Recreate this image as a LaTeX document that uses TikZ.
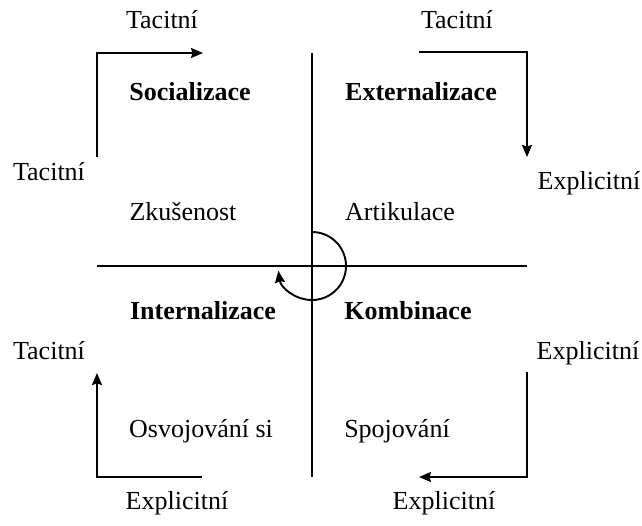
\documentclass[tikz,border=0pt]{standalone}
\usepackage{fontspec}
\setmainfont{Liberation Serif}
\usetikzlibrary{arrows.meta}

\begin{document}
\begin{tikzpicture}[
    x=1pt, y=1pt,
    lbl/.style={inner sep=0pt, anchor=base, font=\fontsize{26}{30}\selectfont},
    mode/.style={lbl, font=\fontsize{26}{30}\selectfont\bfseries},
    flow/.style={-{Stealth[length=12pt, width=10pt, inset=1.5pt]}, line width=1.9pt},
    axis/.style={line width=1.8pt}
]
    \useasboundingbox (0,0) rectangle (642,525);

    % Axes
    \coordinate (ax-top) at (312,472);
    \coordinate (ax-bot) at (312,48);
    \coordinate (ax-left) at (97,259);
    \coordinate (ax-right) at (527,259);
    \draw[axis] (ax-top) -- (ax-bot);
    \draw[axis] (ax-left) -- (ax-right);

    % Spiral in the centre
    \coordinate (hub) at (312,259);
    \draw[flow] ([yshift=34pt]hub) arc[start angle=90, end angle=-172, radius=34];

    % Quadrant titles
    \node[mode] (soc) at (190,424) {Socializace};
    \node[mode] (ext) at (421,424) {Externalizace};
    \node[mode] (int) at (203,205) {Internalizace};
    \node[mode] (kom) at (408,205) {Kombinace};

    % Quadrant contents
    \node[lbl] (zk) at (183,304) {Zkušenost};
    \node[lbl] (art) at (400,304) {Artikulace};
    \node[lbl] (osv) at (201,88) {Osvojování si};
    \node[lbl] (spo) at (397,88) {Spojování};

    % Outer labels
    \node[lbl] (t-tl) at (162,496) {Tacitní};
    \node[lbl] (t-tr) at (457,496) {Tacitní};
    \node[lbl] (t-l1) at (49,344) {Tacitní};
    \node[lbl] (e-r1) at (589,335) {Explicitní};
    \node[lbl] (t-l2) at (49,165) {Tacitní};
    \node[lbl] (e-r2) at (588,166) {Explicitní};
    \node[lbl] (e-bl) at (177,16) {Explicitní};
    \node[lbl] (e-br) at (444,16) {Explicitní};

    % Conversion arrows
    \coordinate (tl-a) at (97,368);
    \coordinate (tl-b) at (203,472);
    \coordinate (tr-a) at (419,473);
    \coordinate (tr-b) at (527,368);
    \coordinate (br-a) at (527,153);
    \coordinate (br-b) at (419,48);
    \coordinate (bl-a) at (202,48);
    \coordinate (bl-b) at (97,152);
    \draw[flow] (tl-a) |- (tl-b);
    \draw[flow] (tr-a) -| (tr-b);
    \draw[flow] (br-a) |- (br-b);
    \draw[flow] (bl-a) -| (bl-b);
\end{tikzpicture}
\end{document}
